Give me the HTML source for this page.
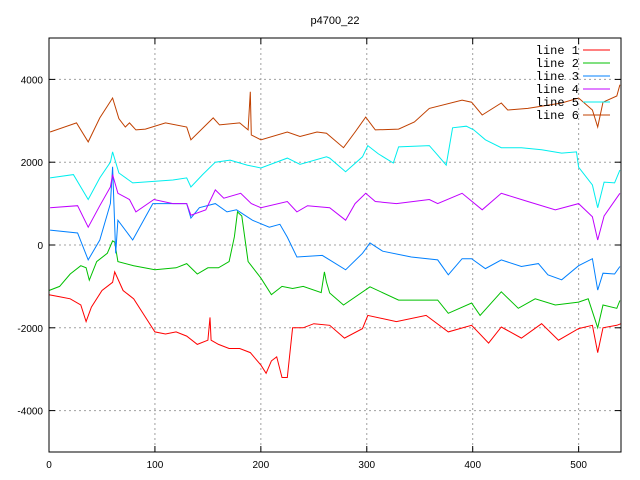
<!DOCTYPE html>
<html><head><meta charset="utf-8"><style>
body{margin:0;background:#fff}
svg{display:block;font-family:"Liberation Sans",sans-serif}
</style></head><body>
<svg id="chart" width="640" height="480">
<text x="335" y="24" font-size="11" text-anchor="middle">p4700_22</text>
<g id="grid"></g><g id="ticks"></g><g id="series"></g>
<rect x="49" y="38" width="572" height="414" fill="none" stroke="#000"/>
<g id="legend" font-family="Liberation Mono, monospace" font-size="12"></g>
</svg>
<script>
const xTicks=[0,100,200,300,400,500];
const yTicks=[4000,2000,0,-2000,-4000];
const names=["line 1","line 2","line 3","line 4","line 5","line 6"];
const colors=["#ff0000","#00c000","#0080ff","#c000ff","#00eeee","#c04000"];
const x1=[0,10,20,30,35,40,50,60,62,70,80,90,100,110,120,130,140,150,152,153,160,170,180,190,200,205,210,215,220,225,230,240,250,265,279,296,301,328,356,377,399,415,427,446,465,481,500,513,518,523,536,540];
const y1=[-1200,-1250,-1300,-1450,-1850,-1500,-1100,-900,-650,-1100,-1300,-1700,-2100,-2150,-2100,-2200,-2400,-2300,-1750,-2300,-2400,-2500,-2500,-2600,-2900,-3100,-2800,-2700,-3200,-3200,-2000,-2000,-1900,-1940,-2250,-2020,-1700,-1850,-1700,-2100,-1940,-2370,-1980,-2250,-1900,-2300,-2020,-1940,-2600,-2000,-1940,-1900];
const x2=[0,10,20,30,35,38,45,55,60,62,65,80,100,120,130,140,150,160,170,175,178,182,188,200,210,220,230,240,257,260,262,265,278,303,330,367,377,399,407,427,443,459,478,500,509,518,523,536,539];
const y2=[-1100,-1000,-700,-500,-550,-850,-400,-200,100,70,-400,-500,-600,-550,-450,-700,-550,-550,-400,200,800,700,-400,-800,-1200,-1000,-1050,-1000,-1150,-650,-900,-1160,-1450,-1010,-1330,-1330,-1650,-1400,-1700,-1130,-1530,-1300,-1450,-1380,-1300,-2000,-1450,-1530,-1340];
const x3=[1,27,37,48,58,60,63,65,79,98,117,130,134,142,157,168,177,192,208,218,225,234,258,265,280,296,303,315,342,367,377,390,399,412,427,446,462,471,484,500,513,518,523,534,539];
const y3=[360,290,-360,120,1000,1890,-200,600,120,1000,1000,1000,650,900,1000,800,850,600,430,500,190,-290,-250,-360,-600,-200,50,-150,-290,-360,-720,-330,-330,-570,-360,-520,-450,-720,-840,-500,-330,-1090,-680,-700,-520];
const x4=[1,27,37,48,58,60,65,76,82,99,117,130,134,148,157,165,181,191,200,225,234,244,265,280,289,299,308,328,359,367,390,409,427,452,478,500,513,518,524,539];
const y4=[900,950,430,950,1400,1700,1250,1100,800,1100,1000,1000,720,850,1330,1130,1250,1000,900,1050,800,950,900,600,1000,1250,1050,1000,1100,1000,1250,850,1250,1050,850,1000,680,120,700,1250];
const x5=[1,23,37,48,58,60,66,79,117,130,134,145,157,171,187,200,225,237,262,265,280,296,301,311,325,330,359,367,375,381,394,401,412,427,446,465,484,498,500,513,518,524,534,539];
const y5=[1620,1700,1100,1620,2000,2250,1740,1500,1570,1620,1400,1700,2000,2050,1930,1860,2100,1950,2130,2100,1770,2130,2400,2200,1980,2370,2400,2170,1930,2830,2870,2780,2540,2350,2350,2300,2220,2250,1880,1450,900,1520,1500,1810];
const x6=[1,26,37,48,60,66,72,76,82,91,110,130,134,155,161,180,188,190,191,200,225,237,253,262,278,289,299,308,330,345,359,390,399,409,427,433,452,484,500,513,518,523,536,539];
const y6=[2730,2950,2490,3070,3550,3050,2850,2950,2780,2800,2950,2850,2540,3070,2900,2950,2780,3700,2660,2540,2730,2620,2730,2700,2350,2730,3090,2780,2800,2970,3300,3500,3450,3140,3430,3260,3300,3430,3550,3260,2850,3450,3600,3870];
const xs=[x1,x2,x3,x4,x5,x6], ys=[y1,y2,y3,y4,y5,y6];
const X0=49,X1=621,Y0=452,Y1=38;
const sx=v=>X0+(v-0)/540*(X1-X0);
const sy=v=>Y0-(v+5000)/10000*(Y0-Y1);
const NS="http://www.w3.org/2000/svg";
function mk(t,a,p){const e=document.createElementNS(NS,t);for(const k in a)e.setAttribute(k,a[k]);p.appendChild(e);return e;}
const grid=document.getElementById('grid'),ticks=document.getElementById('ticks');
xTicks.forEach(v=>{const x=sx(v);
 if(v>0){const g=mk('line',{x1:x,x2:x,y1:Y1,y2:Y0,stroke:'#a0a0a0','stroke-dasharray':'2,3'},grid);
 
 }
 mk('line',{x1:x,x2:x,y1:Y0,y2:Y0-6,stroke:'#000'},ticks);mk('line',{x1:x,x2:x,y1:Y1,y2:Y1+6,stroke:'#000'},ticks);
 const t=mk('text',{x:x,y:Y0+16,'font-size':10,'text-anchor':'middle'},ticks);t.textContent=v;
 
 });
yTicks.forEach(v=>{const y=sy(v);
 const g=mk('line',{x1:X0,x2:X1,y1:y,y2:y,stroke:'#a0a0a0','stroke-dasharray':'2,3'},grid);
 
 
 mk('line',{x1:X0,x2:X0+6,y1:y,y2:y,stroke:'#000'},ticks);mk('line',{x1:X1,x2:X1-6,y1:y,y2:y,stroke:'#000'},ticks);
 const t=mk('text',{x:X0-6,y:y+4,'font-size':10,'text-anchor':'end'},ticks);t.textContent=v;
 
 });
const ser=document.getElementById('series'),leg=document.getElementById('legend');
names.forEach((n,i)=>{
 const pts=xs[i].map((x,j)=>sx(x).toFixed(1)+','+sy(ys[i][j]).toFixed(1)).join(' ');
 const p=mk('polyline',{points:pts,fill:'none',stroke:colors[i],'stroke-width':1},ser);
 
 
 const ly=50+i*13;
 const t=mk('text',{x:579,y:ly+4,'text-anchor':'end',fill:'#000'},leg);t.textContent=n;
 
 
 const l=mk('line',{x1:583,x2:610,y1:ly,y2:ly,stroke:colors[i]},leg);
 
 
});
</script>
</body></html>
